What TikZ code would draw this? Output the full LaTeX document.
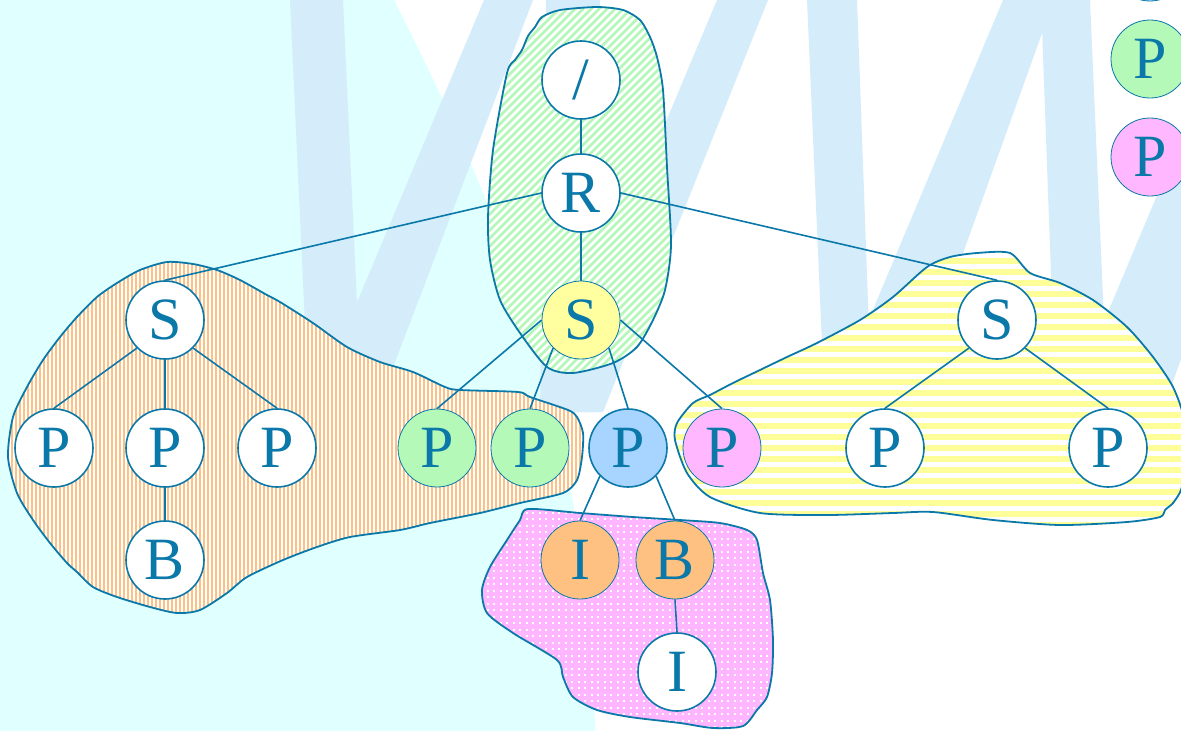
\documentclass[tikz,border=0pt]{standalone}
\usepackage{fontspec}
\newfontfamily\nodefont{Liberation Serif}
\definecolor{teal1}{HTML}{0A78A8}
\definecolor{bgcyan}{HTML}{E0FFFF}
\definecolor{wblue}{HTML}{D5EDFB}
\definecolor{hgreen}{HTML}{B5F7B8}
\definecolor{horange}{HTML}{FFC183}
\definecolor{hyellow}{HTML}{FFFF99}
\definecolor{hpink}{HTML}{FFB5FF}
\definecolor{fgreen}{HTML}{B5F9B9}
\definecolor{fblue}{HTML}{A8D5FF}
\definecolor{fpink}{HTML}{FFB8FF}
\definecolor{forange}{HTML}{FFC182}
\definecolor{fyellow}{HTML}{FFFFA0}
\def\greenblob{plot[smooth cycle,tension=0.45] coordinates {(542,17) (560,10) (597,7) (623,10) (640,20) (650,37) (657,57) (663,90) (667,167) (671,245) (665,290) (653,320) (637,347) (613,363) (573,373) (547,367) (520,333) (500,300) (490,260) (488,217) (493,150) (507,73) (515,60) (522,50) (528,36) (535,27)}}
\def\orangeblob{plot[smooth cycle,tension=0.45] coordinates {(167,262) (140,270) (117,283) (97,297) (77,317) (60,337) (43,360) (27,387) (13,417) (8,457) (17,493) (33,520) (50,543) (67,563) (77,572) (93,587) (117,597) (150,607) (177,613) (200,610) (227,593) (247,577) (283,560) (317,547) (350,537) (400,530) (430,523) (480,513) (520,503) (563,493) (577,480) (582,457) (583,433) (577,417) (568,410) (530,397) (518,392) (460,390) (445,387) (413,372) (380,362) (347,347) (313,323) (280,302) (267,295) (240,280) (217,270) (193,264)}}
\def\yellowblob{plot[smooth cycle,tension=0.45] coordinates {(1010,253) (1030,273) (1060,283) (1093,300) (1127,327) (1153,357) (1173,387) (1184,420) (1184,470) (1181,490) (1173,503) (1165,510) (1160,517) (1127,522) (1060,525) (993,520) (933,512) (893,513) (827,515) (760,513) (710,497) (687,473) (675,440) (677,423) (693,403) (710,395) (733,383) (760,370) (787,357) (817,343) (860,320) (893,297) (927,267) (950,257) (977,253)}}
\def\pinkblob{plot[smooth cycle,tension=0.45] coordinates {(528,509) (580,513) (633,517) (680,520) (720,523) (747,530) (757,540) (763,573) (770,600) (773,640) (772,673) (767,697) (757,710) (743,726) (713,728) (680,723) (630,717) (597,710) (573,697) (563,677) (557,660) (513,633) (487,613) (482,590) (490,567) (507,540) (520,520)}}
\begin{document}
\begin{tikzpicture}[x=1pt,y=-1pt,
  tn/.style={circle, draw=teal1, line width=1.6pt, fill=white, minimum size=78pt,
    inner sep=0pt, text=teal1, font=\nodefont\fontsize{60}{60}\selectfont},
  cn/.style={tn, line width=0.8pt},
  edge/.style={draw=teal1, line width=1.6pt},
  blob/.style={draw=teal1, line width=1.8pt, line join=round}]
\useasboundingbox (0,0) rectangle (1181,731);
% background
\fill[white] (0,0) rectangle (1181,731);
\fill[bgcyan] (0,0) -- (394,0) .. controls (470,150) and (590,400) .. (595,731) -- (0,731) -- cycle;
% big letters
\fill[wblue] (290,0) -- (343,0) -- (362,412) -- (309,412) -- cycle;
\fill[wblue] (484,0) -- (533,0) -- (376,412) -- (311,412) -- cycle;
\fill[wblue] (546,0) -- (600,0) -- (598,412) -- (540,412) -- cycle;
\fill[wblue] (717,0) -- (768,0) -- (603,412) -- (544,412) -- cycle;
\fill[wblue] (807,0) -- (857,0) -- (872,412) -- (825,412) -- cycle;
\fill[wblue] (1003,0) -- (1054,0) -- (906,412) -- (830,412) -- cycle;
\fill[wblue] (1041,0) -- (1090,0) -- (1108,412) -- (1056,412) -- cycle;
\fill[wblue] (1239,0) -- (1310,0) -- (1162,412) -- (1066,412) -- cycle;
% orange blob
\begin{scope}
  \clip \orangeblob;
  \fill[white] (0,250) rectangle (600,620);
  \foreach \x in {0,4,...,600} \draw[horange, line width=2.4pt] (\x,250) -- (\x,620);
\end{scope}
\draw[blob] \orangeblob;
% green blob
\begin{scope}
  \clip \greenblob;
  \fill[white] (480,0) rectangle (680,380);
  \foreach \x in {100,108,...,700} \draw[hgreen, line width=2.8pt] (\x,380) -- (\x+380,0);
\end{scope}
\draw[blob] \greenblob;
% yellow blob
\begin{scope}
  \clip \yellowblob;
  \fill[white] (670,245) rectangle (1190,530);
  \foreach \y in {250,261,...,530} \draw[hyellow, line width=6pt] (670,\y) -- (1190,\y);
\end{scope}
\draw[blob] \yellowblob;
% pink blob
\begin{scope}
  \clip \pinkblob;
  \fill[white] (475,500) rectangle (780,735);
  \foreach \x in {478,484.5,...,780} \draw[hpink, line width=4.5pt] (\x,500) -- (\x,735);
  \foreach \y in {503,509.5,...,735} \draw[hpink, line width=4.5pt] (475,\y) -- (780,\y);
\end{scope}
\draw[blob] \pinkblob;
% nodes
\node[tn] (slash) at (581,80) {/};
\node[tn] (R) at (581,193) {R};
\node[cn, fill=fyellow] (Sy) at (581,320) {S};
\node[tn] (Sl) at (165,320) {S};
\node[tn] (Pl1) at (54,448) {P};
\node[tn] (Pl2) at (165,448) {P};
\node[tn] (Pl3) at (277,448) {P};
\node[tn] (Bl) at (165,560) {B};
\node[cn, fill=fgreen] (Pg1) at (437,448) {P};
\node[cn, fill=fgreen] (Pg2) at (530,448) {P};
\node[tn, fill=fblue] (Pb) at (628,448) {P};
\node[cn, fill=fpink] (Pp) at (722,448) {P};
\node[tn] (Sr) at (997,320) {S};
\node[tn] (Pr1) at (885,448) {P};
\node[tn] (Pr2) at (1108,448) {P};
\node[cn, fill=forange] (Io) at (580,560) {I};
\node[cn, fill=forange] (Bo) at (675,560) {B};
\node[tn] (Iw) at (677,672) {I};
% legend
\node[cn, fill=fblue] (Lb) at (1150,-38) {};
\node[cn, fill=fgreen] (Lg) at (1150,59) {P};
\node[cn, fill=fpink] (Lp) at (1150,157) {P};
% edges
\draw[edge] (slash.south) -- (R.north);
\draw[edge] (R.south) -- (Sy.north);
\draw[edge] (R.west) -- (Sl.north);
\draw[edge] (R.east) -- (Sr.north);
\draw[edge] (Sl.south west) -- (Pl1.north);
\draw[edge] (Sl.south) -- (Pl2.north);
\draw[edge] (Sl.south east) -- (Pl3.north);
\draw[edge] (Pl2.south) -- (Bl.north);
\draw[edge] (Sy.west) -- (Pg1.north);
\draw[edge] (Sy.south west) -- (Pg2.north);
\draw[edge] (Sy.south east) -- (Pb.north);
\draw[edge] (Sy.east) -- (Pp.north);
\draw[edge] (Sr.south west) -- (Pr1.north);
\draw[edge] (Sr.south east) -- (Pr2.north);
\draw[edge] (Pb.south west) -- (Io.north);
\draw[edge] (Pb.south east) -- (Bo.north);
\draw[edge] (Bo.south) -- (Iw.north);
\end{tikzpicture}
\end{document}
